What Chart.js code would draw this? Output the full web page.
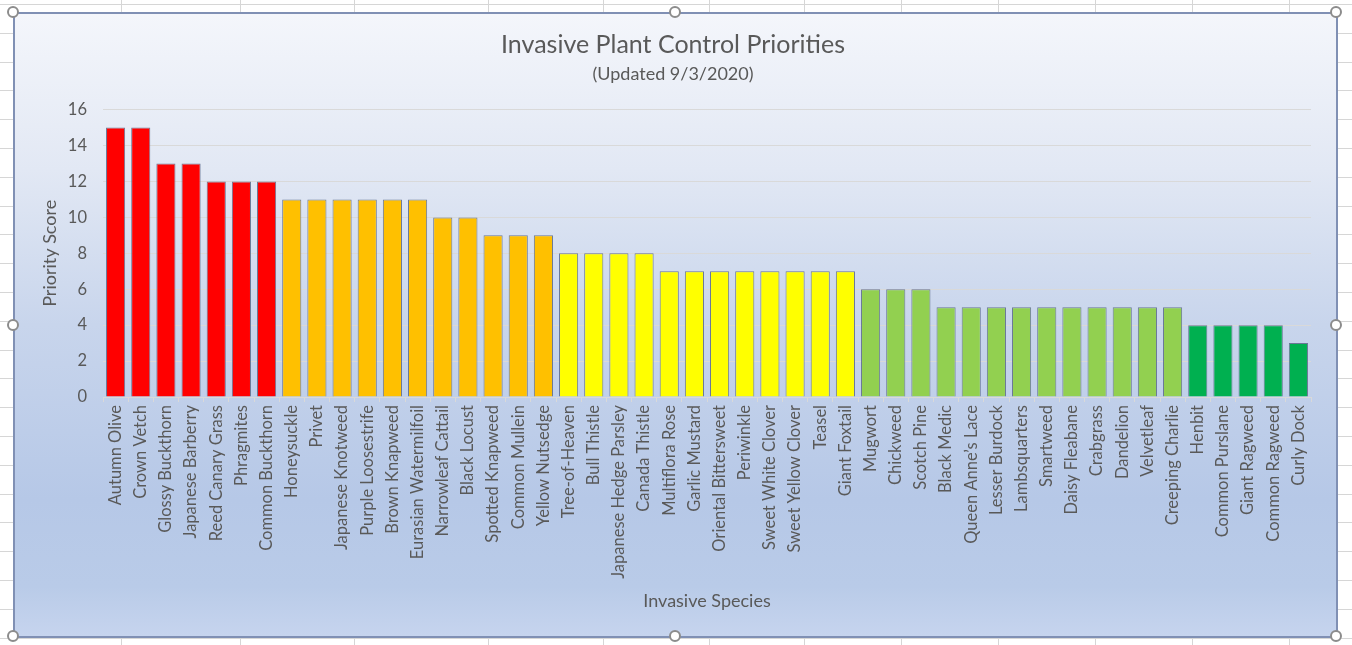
<!DOCTYPE html>
<html>
<head>
<meta charset="utf-8">
<script src="https://cdn.jsdelivr.net/npm/chart.js@4.4.0/dist/chart.umd.min.js"></script>
<style>
  html, body { margin: 0; padding: 0; }
  body {
    width: 1352px; height: 645px; position: relative; overflow: hidden;
    background: #fff repeating-linear-gradient(to bottom, #d6d6d6 0, #d6d6d6 1px, transparent 1px, transparent 28.8px);
    background-position: 0 4px;
  }
  .col { position: absolute; top: 0; width: 1px; height: 645px; background: #d6d6d6; }
  #frame {
    position: absolute; left: 13px; top: 12px; width: 1321px; height: 622px;
    border: 2px solid #8090b4;
    background: linear-gradient(to bottom, #f4f6fb 0%, #e2e8f4 25%, #c8d5ec 50%, #b6c8e7 78%, #b9cbe8 92%, #c6d4ee 100%);
  }
  #chart { position: absolute; left: 0; top: 0; }
  .handle {
    position: absolute; width: 12px; height: 12px; border-radius: 50%;
    border: 2px solid #8c8c8c; background: #fff; box-sizing: border-box;
    transform: translate(-6px, -6px);
  }
</style>
</head>
<body>
<div id="frame"></div>
<canvas id="chart" width="1352" height="645"></canvas>
<script>
// plant names, in the order shown
const species = [
  'Autumn Olive', 'Crown Vetch', 'Glossy Buckthorn', 'Japanese Barberry', 'Reed Canary Grass',
  'Phragmites', 'Common Buckthorn', 'Honeysuckle', 'Privet', 'Japanese Knotweed',
  'Purple Loosestrife', 'Brown Knapweed', 'Eurasian Watermilfoil', 'Narrowleaf Cattail', 'Black Locust',
  'Spotted Knapweed', 'Common Mullein', 'Yellow Nutsedge', 'Tree-of-Heaven', 'Bull Thistle',
  'Japanese Hedge Parsley', 'Canada Thistle', 'Multiflora Rose', 'Garlic Mustard', 'Oriental Bittersweet',
  'Periwinkle', 'Sweet White Clover', 'Sweet Yellow Clover', 'Teasel', 'Giant Foxtail',
  'Mugwort', 'Chickweed', 'Scotch Pine', 'Black Medic', 'Queen Anne\u2019s Lace',
  'Lesser Burdock', 'Lambsquarters', 'Smartweed', 'Daisy Fleabane', 'Crabgrass',
  'Dandelion', 'Velvetleaf', 'Creeping Charlie', 'Henbit', 'Common Purslane',
  'Giant Ragweed', 'Common Ragweed', 'Curly Dock'
];

const scores = [
  15, 15, 13, 13, 12, 12, 12, 11, 11, 11,
  11, 11, 11, 10, 10, 9, 9, 9, 8, 8,
  8, 8, 7, 7, 7, 7, 7, 7, 7, 7,
  6, 6, 6, 5, 5, 5, 5, 5, 5, 5,
  5, 5, 5, 4, 4, 4, 4, 3
];

// priority tier of each bar (0 = highest)
const tiers = [
  0, 0, 0, 0, 0, 0, 0, 1, 1, 1,
  1, 1, 1, 1, 1, 1, 1, 1, 2, 2,
  2, 2, 2, 2, 2, 2, 2, 2, 2, 2,
  3, 3, 3, 3, 3, 3, 3, 3, 3, 3,
  3, 3, 3, 4, 4, 4, 4, 4
];
const tierColors = ['#ff0000', '#ffc000', '#ffff00', '#92d050', '#00b050'];

const yTicks = [0, 2, 4, 6, 8, 10, 12, 14, 16];

// spreadsheet backdrop
const colLines = [121, 240, 354, 488, 603, 709, 804, 901, 998, 1095, 1192, 1289];
colLines.forEach(x => {
  const d = document.createElement('div');
  d.className = 'col';
  d.style.left = x + 'px';
  document.body.insertBefore(d, document.body.firstChild);
});

const textColor = '#595959';
Chart.defaults.font.family = 'Lato, "Open Sans", sans-serif';
Chart.defaults.color = textColor;

new Chart(document.getElementById('chart'), {
  type: 'bar',
  data: {
    labels: species,
    datasets: [{
      data: scores,
      backgroundColor: tiers.map(t => tierColors[t]),
      borderColor: '#6a7896',
      borderWidth: 1,
      categoryPercentage: 1,
      barPercentage: 0.76
    }]
  },
  options: {
    responsive: false,
    animation: false,
    layout: { padding: { left: 35, right: 41, top: 12, bottom: 33 } },
    plugins: {
      legend: { display: false },
      tooltip: { enabled: false },
      title: {
        display: true,
        text: 'Invasive Plant Control Priorities',
        color: textColor,
        font: { size: 25, weight: 'normal' },
        padding: { top: 18, bottom: 3 }
      },
      subtitle: {
        display: true,
        text: '(Updated 9/3/2020)',
        color: textColor,
        font: { size: 18 },
        padding: { top: 0, bottom: 25 }
      }
    },
    scales: {
      x: {
        ticks: { autoSkip: false, minRotation: 90, maxRotation: 90, padding: 3, font: { size: 16.5 } },
        grid: { drawOnChartArea: false, tickLength: 5, color: '#d9d9d9' },
        border: { color: '#d9d9d9' },
        title: { display: true, text: 'Invasive Species', font: { size: 18 }, padding: { top: 4, bottom: 0 } },
        afterFit: s => { s.height = 215; }
      },
      y: {
        min: yTicks[0],
        max: yTicks[yTicks.length - 1],
        afterBuildTicks: s => { s.ticks = yTicks.map(v => ({ value: v })); },
        ticks: { padding: 16, font: { size: 16.5 } },
        grid: { color: '#d9d9d9', drawTicks: false },
        border: { display: false },
        title: { display: true, text: 'Priority Score', font: { size: 18 } },
        afterFit: s => { s.width = 68; }
      }
    }
  }
});

// selection handles on the chart frame
[[13, 12], [675, 12], [1336, 12], [13, 325], [1336, 325], [13, 636], [675, 636], [1336, 636]].forEach(p => {
  const h = document.createElement('div');
  h.className = 'handle';
  h.style.left = p[0] + 'px';
  h.style.top = p[1] + 'px';
  document.body.appendChild(h);
});
</script>
</body>
</html>
